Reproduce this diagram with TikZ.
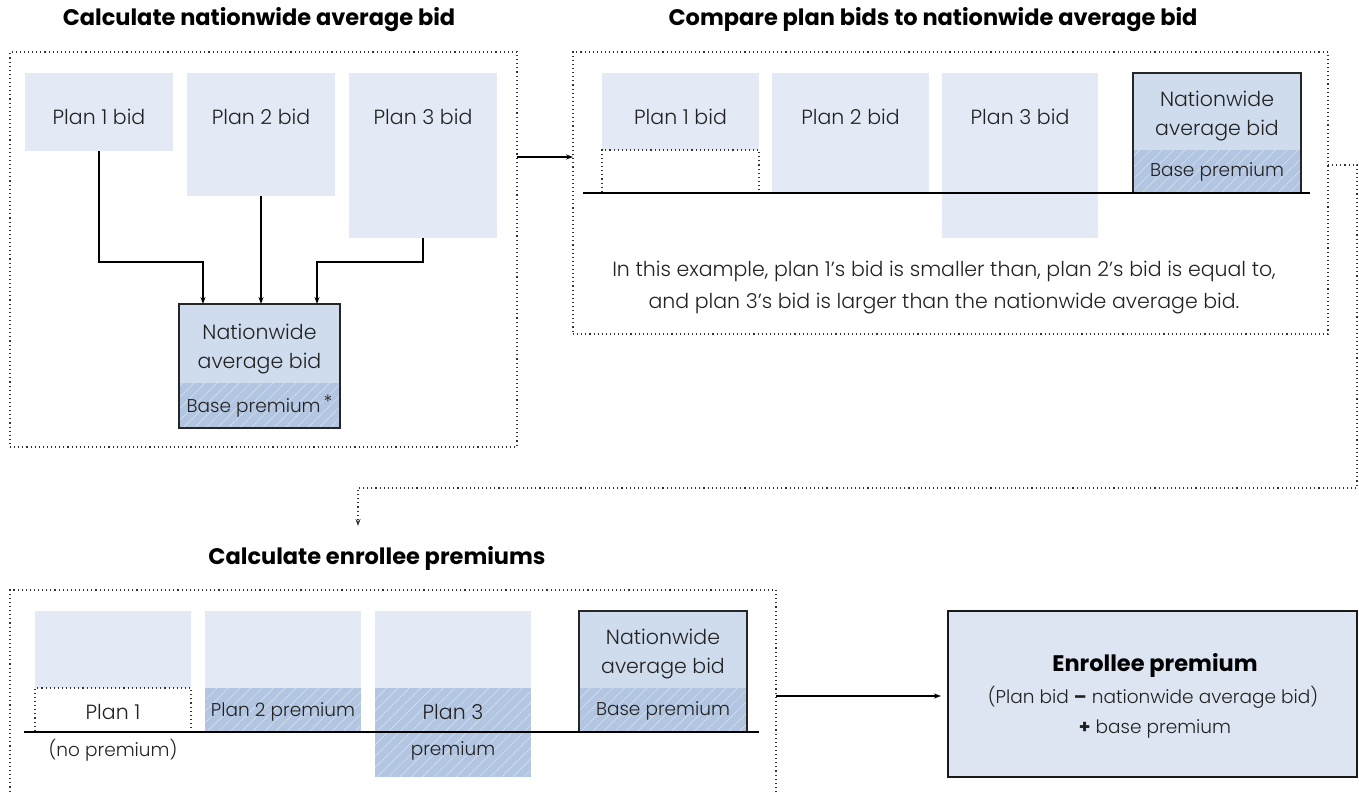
\documentclass[tikz,border=0pt]{standalone}
\usepackage{fontspec}
\setmainfont{Poppins}[UprightFont={* Light}, BoldFont={* Bold}]
\usetikzlibrary{arrows.meta,patterns.meta}
\definecolor{bidfill}{HTML}{E3EAF5}
\definecolor{nabfill}{HTML}{CFDCEE}
\definecolor{basefill}{HTML}{B2C5E1}
\definecolor{epfill}{HTML}{DDE5F2}
\definecolor{txt}{HTML}{222222}
\tikzset{
  box/.style={anchor=north west, inner sep=0pt, outer sep=0pt},
  bid/.style={box, fill=bidfill},
  nabtop/.style={box, fill=nabfill},
  hatch/.style={box, fill=basefill, postaction={pattern={Lines[angle=45,distance=8pt,line width=0.5pt]}, pattern color=white!55!basefill}},
  nabframe/.style={box, draw=black!85, line width=1.2pt},
  frame/.style={box, draw=black!80, line width=1.1pt, dash pattern=on 1.1pt off 3pt},
  dotbox/.style={box, draw=black!80, line width=1.1pt, dash pattern=on 1.1pt off 3pt},
  arr/.style={draw=black, line width=1.1pt, -{Stealth[length=7pt,width=5pt]}},
  dotarr/.style={draw=black!80, line width=1.1pt, dash pattern=on 1.1pt off 3pt, -{Stealth[length=7pt,width=5pt]}},
  base/.style={draw=black, line width=1.2pt},
  lbl/.style={text=txt, inner sep=0pt, font=\fontsize{20.5}{23}\selectfont},
  lbls/.style={text=txt, inner sep=0pt, font=\fontsize{18.5}{22}\selectfont},
  ttl/.style={text=black, inner sep=0pt, font=\fontsize{22.5}{26}\selectfont\bfseries},
}
\begin{document}
\begin{tikzpicture}[x=1pt,y=-1pt]
\useasboundingbox (0,0) rectangle (1359,792);

% ---------- Panel 1 ----------
\node[ttl] (t1) at (259,20) {Calculate nationwide average bid};
\node[frame, minimum width=507pt, minimum height=395pt] (f1) at (10,52) {};
\node[bid, minimum width=148pt, minimum height=78pt] (a1) at (25,73) {};
\node[bid, minimum width=148pt, minimum height=123pt] (a2) at (187,73) {};
\node[bid, minimum width=148pt, minimum height=165pt] (a3) at (349,73) {};
\node[lbl] (a1t) at (99,117) {Plan 1 bid};
\node[lbl] (a2t) at (261,117) {Plan 2 bid};
\node[lbl] (a3t) at (423,117) {Plan 3 bid};
\node[nabtop, minimum width=161pt, minimum height=79pt] (n1top) at (179,304) {};
\node[hatch, minimum width=161pt, minimum height=45pt] (n1base) at (179,383) {};
\node[nabframe, minimum width=161pt, minimum height=124pt] (n1) at (179,304) {};
\node[lbl] (n1a) at (259.5,332) {Nationwide};
\node[lbl] (n1b) at (259.5,364) {average bid};
\node[lbls] (n1c) at (259.5,406) {Base premium\,\raisebox{4pt}{*}};
\draw[arr] (a1.south) -- (a1.south |- 0,262) -| ([xshift=-56.5pt]n1.north);
\draw[arr] (a2.south) -- (a2.south |- n1.north);
\draw[arr] (a3.south) -- (a3.south |- 0,262) -| ([xshift=57.5pt]n1.north);

% ---------- Panel 2 ----------
\node[ttl] (t2) at (933,20) {Compare plan bids to nationwide average bid};
\node[frame, minimum width=755pt, minimum height=282pt] (f2) at (573,52) {};
\node[bid, minimum width=157pt, minimum height=77pt] (b1) at (602,73) {};
\node[dotbox, minimum width=157pt, minimum height=43pt] (b1d) at (602,150) {};
\node[bid, minimum width=157pt, minimum height=120pt] (b2) at (772,73) {};
\node[bid, minimum width=156pt, minimum height=165pt] (b3) at (942,73) {};
\node[lbl] (b1t) at (680.5,117) {Plan 1 bid};
\node[lbl] (b2t) at (850.5,117) {Plan 2 bid};
\node[lbl] (b3t) at (1020,117) {Plan 3 bid};
\node[nabtop, minimum width=168pt, minimum height=77pt] (n2top) at (1133,73) {};
\node[hatch, minimum width=168pt, minimum height=43pt] (n2base) at (1133,150) {};
\node[nabframe, minimum width=168pt, minimum height=120pt] (n2) at (1133,73) {};
\node[lbl] (n2a) at (1217,99) {Nationwide};
\node[lbl] (n2b) at (1217,131) {average bid};
\node[lbls] (n2c) at (1217,172) {Base premium};
\coordinate (bl2a) at (583,193);
\coordinate (bl2b) at (1310,193);
\draw[base] (bl2a) -- (bl2b);
\node[lbl, align=center, font=\fontsize{20.5}{32}\selectfont] (ex) at (944,288)
  {In this example, plan 1’s bid is smaller than, plan 2’s bid is equal to,\\
   and plan 3’s bid is larger than the nationwide average bid.};

\draw[arr] (f1.east |- 0,157) -- (f2.west |- 0,157);

% dotted connector
\coordinate (c3) at (358,526);
\draw[dotarr] (f2.east |- 0,165) -| (1357,488) -| (c3);

% ---------- Panel 3 ----------
\node[ttl] (t3) at (377,558) {Calculate enrollee premiums};
\node[frame, minimum width=766pt, minimum height=215pt] (f3) at (10,590) {};
\node[bid, minimum width=156pt, minimum height=77pt] (c1) at (35,611) {};
\node[dotbox, minimum width=156pt, minimum height=44pt] (c1d) at (35,688) {};
\node[bid, minimum width=156pt, minimum height=77pt] (c2) at (205,611) {};
\node[hatch, minimum width=156pt, minimum height=44pt] (c2b) at (205,688) {};
\node[bid, minimum width=156pt, minimum height=77pt] (c3b) at (375,611) {};
\node[hatch, minimum width=156pt, minimum height=89pt] (c3p) at (375,688) {};
\node[lbl] (c1t) at (113,712) {Plan 1};
\node[lbls] (c1n) at (113,750) {(no premium)};
\node[lbls] (c2t) at (283,712) {Plan 2 premium};
\node[lbl] (c3t) at (453,712) {Plan 3};
\node[lbls] (c3u) at (453,751) {premium};
\node[nabtop, minimum width=168pt, minimum height=77pt] (n3top) at (579,611) {};
\node[hatch, minimum width=168pt, minimum height=44pt] (n3base) at (579,688) {};
\node[nabframe, minimum width=168pt, minimum height=121pt] (n3) at (579,611) {};
\node[lbl] (n3a) at (663,637) {Nationwide};
\node[lbl] (n3b) at (663,669) {average bid};
\node[lbls] (n3c) at (663,711) {Base premium};
\coordinate (bl3a) at (24,732);
\coordinate (bl3b) at (759,732);
\draw[base] (bl3a) -- (bl3b);

% Enrollee premium
\node[box, fill=epfill, draw=black!90, line width=2.5pt, minimum width=409pt, minimum height=166pt] (ep) at (948,611) {};
\node[lbl, font=\fontsize{22.5}{26}\selectfont\bfseries, text=black] (ep1) at (1155,665) {Enrollee premium};
\node[lbls] (ep2) at (1153,697) {(Plan bid \textbf{–} nationwide average bid)};
\node[lbls] (ep3) at (1155,729) {\textbf{+} base premium};
\draw[arr, shorten >=7pt] (f3.east |- 0,696) -- (ep.west |- 0,696);
\end{tikzpicture}
\end{document}
